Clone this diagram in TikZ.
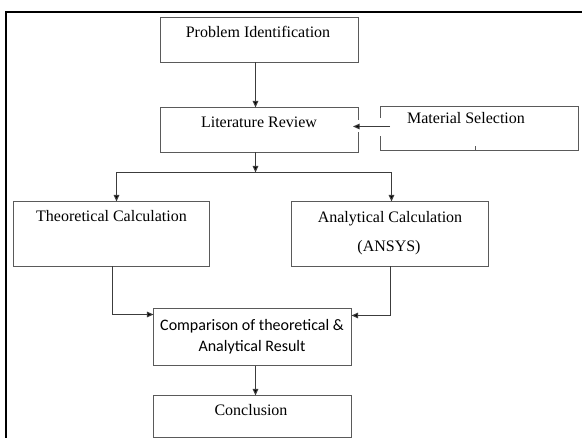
\documentclass[tikz,border=0pt]{standalone}
\usepackage{fontspec}
\setmainfont{Liberation Serif}
\newfontfamily\calib{Carlito}
\usetikzlibrary{arrows.meta,fit}
\definecolor{boxgray}{HTML}{5A5A5A}
\definecolor{linegray}{HTML}{3C3C3C}
\begin{document}
\begin{tikzpicture}[x=0.75pt,y=-0.75pt,
  box/.style={draw=boxgray, line width=1pt, inner sep=0pt, outer sep=0pt},
  lbl/.style={font=\fontsize{12}{14}\selectfont, inner sep=0pt, anchor=base},
  slbl/.style={font=\calib\fontsize{12}{14}\selectfont, inner sep=0pt, anchor=base},
  conn/.style={draw=linegray, line width=0.8pt},
  arr/.style={conn, -{Triangle[length=5pt,width=4.2pt,fill=black]}},
  gap/.style={draw=white, line width=2pt}]
\useasboundingbox (0,0) rectangle (582,438);
% frame
\draw[black, line width=1.6pt] (6,440) -- (6,12) -- (584,12);
% boxes
\node[box, fit={(160.5,17.5) (358.5,62.5)}] (pi) {};
\node[box, fit={(160.5,107.5) (358.5,152.5)}] (lr) {};
\node[box, fit={(380.5,106.5) (578.5,150.5)}] (ms) {};
\node[box, fit={(13.5,201.5) (209.5,266.5)}] (tc) {};
\node[box, fit={(291.5,201.5) (488.5,266.5)}] (ac) {};
\node[box, fit={(153.5,308.5) (351.5,365.5)}] (cmp) {};
\node[box, fit={(153.5,395.5) (351.5,437.5)}] (con) {};
% gaps in box edges around the side arrow
\draw[gap] (358.5,120.5) -- (358.5,132.5);
\draw[gap] (380.5,118.5) -- (380.5,136.5);
\draw[boxgray, line width=0.8pt] (475.5,150.5) -- (475.5,146.5);
% texts
\node[lbl] (tpi) at (258,38) {Problem Identification};
\node[lbl] (tlr) at (259,128) {Literature Review};
\node[lbl] (tms) at (466,124) {Material Selection};
\node[lbl] (ttc) at (111.5,222) {Theoretical Calculation};
\node[lbl] (tac1) at (390,223) {Analytical Calculation};
\node[lbl] (tac2) at (389,252) {(ANSYS)};
\node[slbl] (tcm1) at (252,330) {Comparison of theoretical \&};
\node[slbl] (tcm2) at (252,352) {Analytical Result};
\node[lbl] (tcon) at (251,415) {Conclusion};
% connector coordinates
\coordinate (xa) at (255.5,0);
\coordinate (br) at (255.5,172.5);
\coordinate (bl) at (116.5,172.5);
\coordinate (brr) at (391.5,172.5);
\coordinate (tl) at (112.5,314.5);
\coordinate (ar) at (390.5,315.5);
\coordinate (xc) at (255.5,0);
\coordinate (msa) at (390,126.5);
\coordinate (lra) at (353,126.5);
% connectors
\draw[arr] (pi.south -| xa) -- (lr.north -| xa);
\draw[arr] (msa) -- (lra);
\draw[arr] (lr.south -| br) -- (br);
\draw[conn] (bl) -- (brr);
\draw[arr] (bl) -- (tc.north -| bl);
\draw[arr] (brr) -- (ac.north -| brr);
\draw[arr] (tc.south -| tl) -- (tl) -- (cmp.west |- tl);
\draw[arr] (ac.south -| ar) -- (ar) -- (cmp.east |- ar);
\draw[arr] (cmp.south -| xc) -- (con.north -| xc);
\end{tikzpicture}
\end{document}
